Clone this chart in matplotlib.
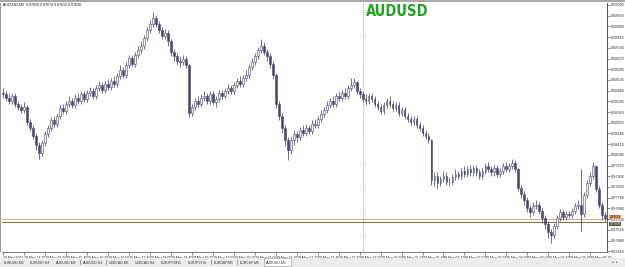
import matplotlib.pyplot as plt
from matplotlib.patches import Rectangle
import pandas as pd

# AUDUSD M5 candles (29-30 May 2012)
closes = [
    0.9844, 0.9842, 0.9840, 0.9843, 0.9838, 0.9836, 0.9834, 0.9836, 0.9826, 0.9822,
    0.9817, 0.9811, 0.9806, 0.9812, 0.9818, 0.9822, 0.9827, 0.9825, 0.9830, 0.9835,
    0.9833, 0.9838, 0.9840, 0.9837, 0.9842, 0.9840, 0.9844, 0.9841, 0.9845, 0.9846,
    0.9843, 0.9848, 0.9850, 0.9847, 0.9851, 0.9849, 0.9853, 0.9851, 0.9856, 0.9860,
    0.9857, 0.9863, 0.9868, 0.9864, 0.9870, 0.9873, 0.9876, 0.9881, 0.9886, 0.9890,
    0.9894, 0.9890, 0.9886, 0.9882, 0.9884, 0.9879, 0.9872, 0.9869, 0.9866, 0.9865,
    0.9867, 0.9863, 0.9832, 0.9836, 0.9840, 0.9838, 0.9842, 0.9843, 0.9840, 0.9844,
    0.9839, 0.9841, 0.9845, 0.9843, 0.9846, 0.9848, 0.9846, 0.9850, 0.9853, 0.9851,
    0.9855, 0.9857, 0.9862, 0.9865, 0.9869, 0.9873, 0.9876, 0.9872, 0.9869, 0.9864,
    0.9857, 0.9838, 0.9830, 0.9822, 0.9814, 0.9808, 0.9814, 0.9818, 0.9816, 0.9821,
    0.9819, 0.9822, 0.9820, 0.9825, 0.9824, 0.9828, 0.9831, 0.9834, 0.9837, 0.9840,
    0.9838, 0.9843, 0.9842, 0.9845, 0.9843, 0.9848, 0.9850, 0.9852, 0.9846, 0.9844,
    0.9841, 0.9840, 0.9843, 0.9841, 0.9838, 0.9836, 0.9833, 0.9837, 0.9840, 0.9838,
    0.9835, 0.9837, 0.9832, 0.9834, 0.9830, 0.9828, 0.9826, 0.9828, 0.9824, 0.9822,
    0.9819, 0.9817, 0.9814, 0.9788, 0.9791, 0.9786, 0.9789, 0.9791, 0.9787, 0.9787,
    0.9790, 0.9792, 0.9791, 0.9794, 0.9792, 0.9795, 0.9793, 0.9796, 0.9793, 0.9791,
    0.9794, 0.9797, 0.9795, 0.9793, 0.9796, 0.9792, 0.9794, 0.9797, 0.9795, 0.9797,
    0.9799, 0.9795, 0.9783, 0.9779, 0.9775, 0.9770, 0.9767, 0.9771, 0.9772, 0.9768,
    0.9763, 0.9759, 0.9754, 0.9752, 0.9758, 0.9763, 0.9767, 0.9764, 0.9766, 0.9765,
    0.9768, 0.9771, 0.9772, 0.9766, 0.9778, 0.9786, 0.9791, 0.9797, 0.9782, 0.9772,
    0.9765, 0.9763,
]
highs = [
    0.9848, 0.9846, 0.9844, 0.9845, 0.9845, 0.9840, 0.9838, 0.9839, 0.9837, 0.9828,
    0.9824, 0.9819, 0.9813, 0.9814, 0.9820, 0.9824, 0.9829, 0.9830, 0.9832, 0.9837,
    0.9838, 0.9840, 0.9843, 0.9842, 0.9844, 0.9845, 0.9846, 0.9846, 0.9847, 0.9849,
    0.9848, 0.9850, 0.9853, 0.9852, 0.9853, 0.9854, 0.9855, 0.9856, 0.9858, 0.9863,
    0.9862, 0.9865, 0.9870, 0.9870, 0.9872, 0.9876, 0.9879, 0.9883, 0.9888, 0.9893,
    0.9898, 0.9896, 0.9892, 0.9888, 0.9887, 0.9886, 0.9880, 0.9874, 0.9871, 0.9869,
    0.9870, 0.9869, 0.9864, 0.9838, 0.9842, 0.9843, 0.9844, 0.9846, 0.9845, 0.9846,
    0.9846, 0.9843, 0.9847, 0.9847, 0.9848, 0.9851, 0.9850, 0.9852, 0.9855, 0.9856,
    0.9857, 0.9860, 0.9864, 0.9868, 0.9871, 0.9875, 0.9880, 0.9878, 0.9874, 0.9871,
    0.9866, 0.9858, 0.9840, 0.9832, 0.9824, 0.9816, 0.9816, 0.9821, 0.9820, 0.9823,
    0.9824, 0.9825, 0.9824, 0.9827, 0.9828, 0.9830, 0.9834, 0.9836, 0.9840, 0.9842,
    0.9843, 0.9845, 0.9846, 0.9847, 0.9848, 0.9850, 0.9855, 0.9855, 0.9853, 0.9848,
    0.9846, 0.9844, 0.9845, 0.9845, 0.9843, 0.9840, 0.9838, 0.9839, 0.9842, 0.9843,
    0.9840, 0.9839, 0.9839, 0.9836, 0.9836, 0.9832, 0.9830, 0.9830, 0.9830, 0.9826,
    0.9824, 0.9821, 0.9819, 0.9815, 0.9793, 0.9793, 0.9791, 0.9794, 0.9793, 0.9790,
    0.9792, 0.9795, 0.9794, 0.9796, 0.9797, 0.9797, 0.9798, 0.9798, 0.9798, 0.9795,
    0.9796, 0.9799, 0.9800, 0.9797, 0.9798, 0.9798, 0.9796, 0.9799, 0.9800, 0.9799,
    0.9802, 0.9801, 0.9796, 0.9785, 0.9781, 0.9777, 0.9772, 0.9774, 0.9775, 0.9774,
    0.9770, 0.9765, 0.9761, 0.9756, 0.9760, 0.9765, 0.9769, 0.9769, 0.9768, 0.9768,
    0.9770, 0.9773, 0.9775, 0.9795, 0.9780, 0.9788, 0.9793, 0.9800, 0.9798, 0.9784,
    0.9774, 0.9767,
]
lows = [
    0.9842, 0.9840, 0.9838, 0.9838, 0.9836, 0.9834, 0.9832, 0.9832, 0.9824, 0.9820,
    0.9815, 0.9808, 0.9802, 0.9804, 0.9810, 0.9816, 0.9820, 0.9823, 0.9823, 0.9828,
    0.9831, 0.9831, 0.9836, 0.9835, 0.9835, 0.9838, 0.9838, 0.9839, 0.9839, 0.9843,
    0.9841, 0.9841, 0.9846, 0.9845, 0.9845, 0.9847, 0.9847, 0.9849, 0.9849, 0.9854,
    0.9855, 0.9855, 0.9861, 0.9862, 0.9862, 0.9868, 0.9871, 0.9874, 0.9879, 0.9884,
    0.9888, 0.9888, 0.9884, 0.9880, 0.9880, 0.9876, 0.9869, 0.9866, 0.9863, 0.9862,
    0.9863, 0.9861, 0.9829, 0.9830, 0.9834, 0.9836, 0.9836, 0.9840, 0.9838, 0.9838,
    0.9837, 0.9836, 0.9839, 0.9841, 0.9841, 0.9844, 0.9844, 0.9844, 0.9848, 0.9849,
    0.9849, 0.9853, 0.9855, 0.9860, 0.9863, 0.9867, 0.9871, 0.9870, 0.9866, 0.9861,
    0.9854, 0.9835, 0.9827, 0.9819, 0.9810, 0.9801, 0.9805, 0.9811, 0.9813, 0.9814,
    0.9817, 0.9817, 0.9818, 0.9818, 0.9822, 0.9822, 0.9826, 0.9829, 0.9832, 0.9835,
    0.9836, 0.9836, 0.9840, 0.9840, 0.9841, 0.9841, 0.9846, 0.9848, 0.9844, 0.9842,
    0.9839, 0.9837, 0.9838, 0.9839, 0.9836, 0.9834, 0.9831, 0.9831, 0.9835, 0.9836,
    0.9833, 0.9833, 0.9830, 0.9830, 0.9828, 0.9826, 0.9824, 0.9824, 0.9822, 0.9820,
    0.9817, 0.9815, 0.9812, 0.9785, 0.9784, 0.9783, 0.9784, 0.9787, 0.9785, 0.9784,
    0.9785, 0.9788, 0.9789, 0.9789, 0.9790, 0.9790, 0.9791, 0.9791, 0.9791, 0.9789,
    0.9789, 0.9792, 0.9793, 0.9791, 0.9791, 0.9790, 0.9790, 0.9792, 0.9793, 0.9793,
    0.9795, 0.9793, 0.9781, 0.9776, 0.9772, 0.9767, 0.9764, 0.9765, 0.9769, 0.9766,
    0.9760, 0.9756, 0.9750, 0.9747, 0.9750, 0.9756, 0.9761, 0.9762, 0.9762, 0.9763,
    0.9763, 0.9766, 0.9769, 0.9755, 0.9764, 0.9776, 0.9784, 0.9789, 0.9780, 0.9770,
    0.9762, 0.9761,
]
first_open = 0.9845
start_time = "2012-05-29 14:00"
day_break = "2012-05-30 00:00"

price_ticks = [0.99025, 0.98955, 0.98885, 0.98815, 0.98745, 0.98675, 0.98605, 0.98535,
               0.98465, 0.98395, 0.98325, 0.98255, 0.98185, 0.98115, 0.98045, 0.97975,
               0.97905, 0.97835, 0.97765, 0.97695, 0.97625, 0.97555, 0.97485, 0.97415]
bid_price = 0.97626
level_price = 0.97606

tabs = ["EURUSD,M5", "EURUSD,H4", "AUDUSD,M5", "AUDUSD,H4", "USDCAD,M5", "USDCAD,H4",
        "EURJPY,M15", "EURJPY,H4", "EURGBP,M5", "EURCHF,M5", "AUDUSD,M5"]
active_tab = 10

W, H = 625, 267
fig = plt.figure(figsize=(W / 100, H / 100), dpi=100)
fig.patch.set_facecolor("white")

def fx(px):
    return px / W

def fy(px):
    return 1 - px / H

# chart area: x 2..607, y 3..252 (pixels from top-left)
ax = fig.add_axes([fx(2), fy(252), fx(605), 249 / H])
ax.set_facecolor("white")

n = len(closes)
opens = [first_open] + closes[:-1]
xs = list(range(n))
edge = "#46466a"
fills = ["#f4f4fa" if c >= o else edge for o, c in zip(opens, closes)]

ax.vlines(xs, lows, highs, color=edge, lw=0.55, zorder=3)
ax.bar(xs, [c - o for o, c in zip(opens, closes)], bottom=opens, width=0.6,
       color=fills, edgecolor=edge, linewidth=0.4, zorder=4)

ax.set_xlim(-0.4, n - 0.4)
ax.set_ylim(0.97410, 0.99038)

times = pd.date_range(start_time, periods=n, freq="5min")
sep = list(times).index(pd.Timestamp(day_break))
ax.axvline(sep, color="#7a7a7a", lw=0.6, ls=(0, (1, 1.5)), zorder=2)

ax.axhline(bid_price, color="#dba878", lw=0.7, zorder=2)
ax.axhline(level_price, color="#6e6e40", lw=0.7, zorder=2)

# time axis
tick_idx = list(range(0, n, 7))
tick_lbl = []
for k, i in enumerate(tick_idx):
    if k == 0:
        tick_lbl.append(times[i].strftime("%d %b %Y"))
    else:
        tick_lbl.append(times[i].strftime("%d %b %H:%M"))
ax.set_xticks(tick_idx)
ax.set_xticklabels(tick_lbl, ha="left", fontsize=2.5, family="Liberation Sans",
                   color="#222222")
ax.tick_params(axis="x", length=2, width=0.4, pad=0.6, color="#333333")

# price axis on the right
ax.yaxis.tick_right()
ax.set_yticks(price_ticks)
ax.set_yticklabels(["%.5f" % p for p in price_ticks], fontsize=2.8,
                   family="Liberation Sans", color="#222222")
ax.tick_params(axis="y", length=2, width=0.4, pad=1, color="#333333")

for s in ["top", "left"]:
    ax.spines[s].set_visible(False)
ax.spines["right"].set_color("#555555")
ax.spines["right"].set_linewidth(0.7)
ax.spines["bottom"].set_color("#777777")
ax.spines["bottom"].set_linewidth(0.7)

# price boxes on the axis
ax.text(1.004, bid_price, "%.5f" % bid_price, transform=ax.get_yaxis_transform(),
        fontsize=2.3, family="Liberation Sans", va="bottom", ha="left", color="#222222",
        bbox=dict(boxstyle="square,pad=0.08", fc="#f0a060", ec="none"), zorder=6)
ax.text(1.004, level_price, "%.5f" % level_price, transform=ax.get_yaxis_transform(),
        fontsize=2.3, family="Liberation Sans", va="top", ha="left", color="white",
        bbox=dict(boxstyle="square,pad=0.08", fc="#4a4a30", ec="none"), zorder=5)

# window chrome
fig.add_artist(Rectangle((0, fy(2)), 1, 2 / H, transform=fig.transFigure,
                         fc="#a8a8a8", ec="none"))
fig.add_artist(Rectangle((0, 0), 1, fy(258), transform=fig.transFigure,
                         fc="#ececec", ec="none"))
fig.add_artist(Rectangle((0, fy(252)), fx(1), 249 / H, transform=fig.transFigure,
                         fc="#9a9a9a", ec="none"))

fig.text(fx(3), fy(3), "AUDUSD,M5  %.5f %.5f %.5f %.5f" % (opens[-1], highs[-1], lows[-1], closes[-1]),
         fontsize=2.6, family="Liberation Sans", color="#111111", va="top", ha="left")

fig.text(fx(366), fy(4.5), "AUDUSD", fontsize=10.5, fontweight="bold",
         fontstretch="condensed", family="DejaVu Sans", color="#1fa21f",
         va="top", ha="left")

# symbol tabs
tab_w = 26.2
for k, name in enumerate(tabs):
    x0 = 2 + k * tab_w
    if k == active_tab:
        fig.add_artist(Rectangle((fx(x0), fy(266)), fx(tab_w + 1), 8 / H,
                                 transform=fig.transFigure, fc="white", ec="#8a8a8a", lw=0.4))
    else:
        fig.add_artist(Rectangle((fx(x0 + tab_w - 0.5), fy(265)), fx(0.5), 5 / H,
                                 transform=fig.transFigure, fc="#9a9a9a", ec="none"))
    fig.text(fx(x0 + 2), fy(262.3), name, fontsize=2.5, family="Liberation Sans",
             color="#333333", va="center", ha="left")
fig.text(fx(612), fy(262.3), "\u25c2  \u25b8", fontsize=2.5, color="#444444",
         va="center", ha="left")

fig.savefig("out.png", dpi=100)
